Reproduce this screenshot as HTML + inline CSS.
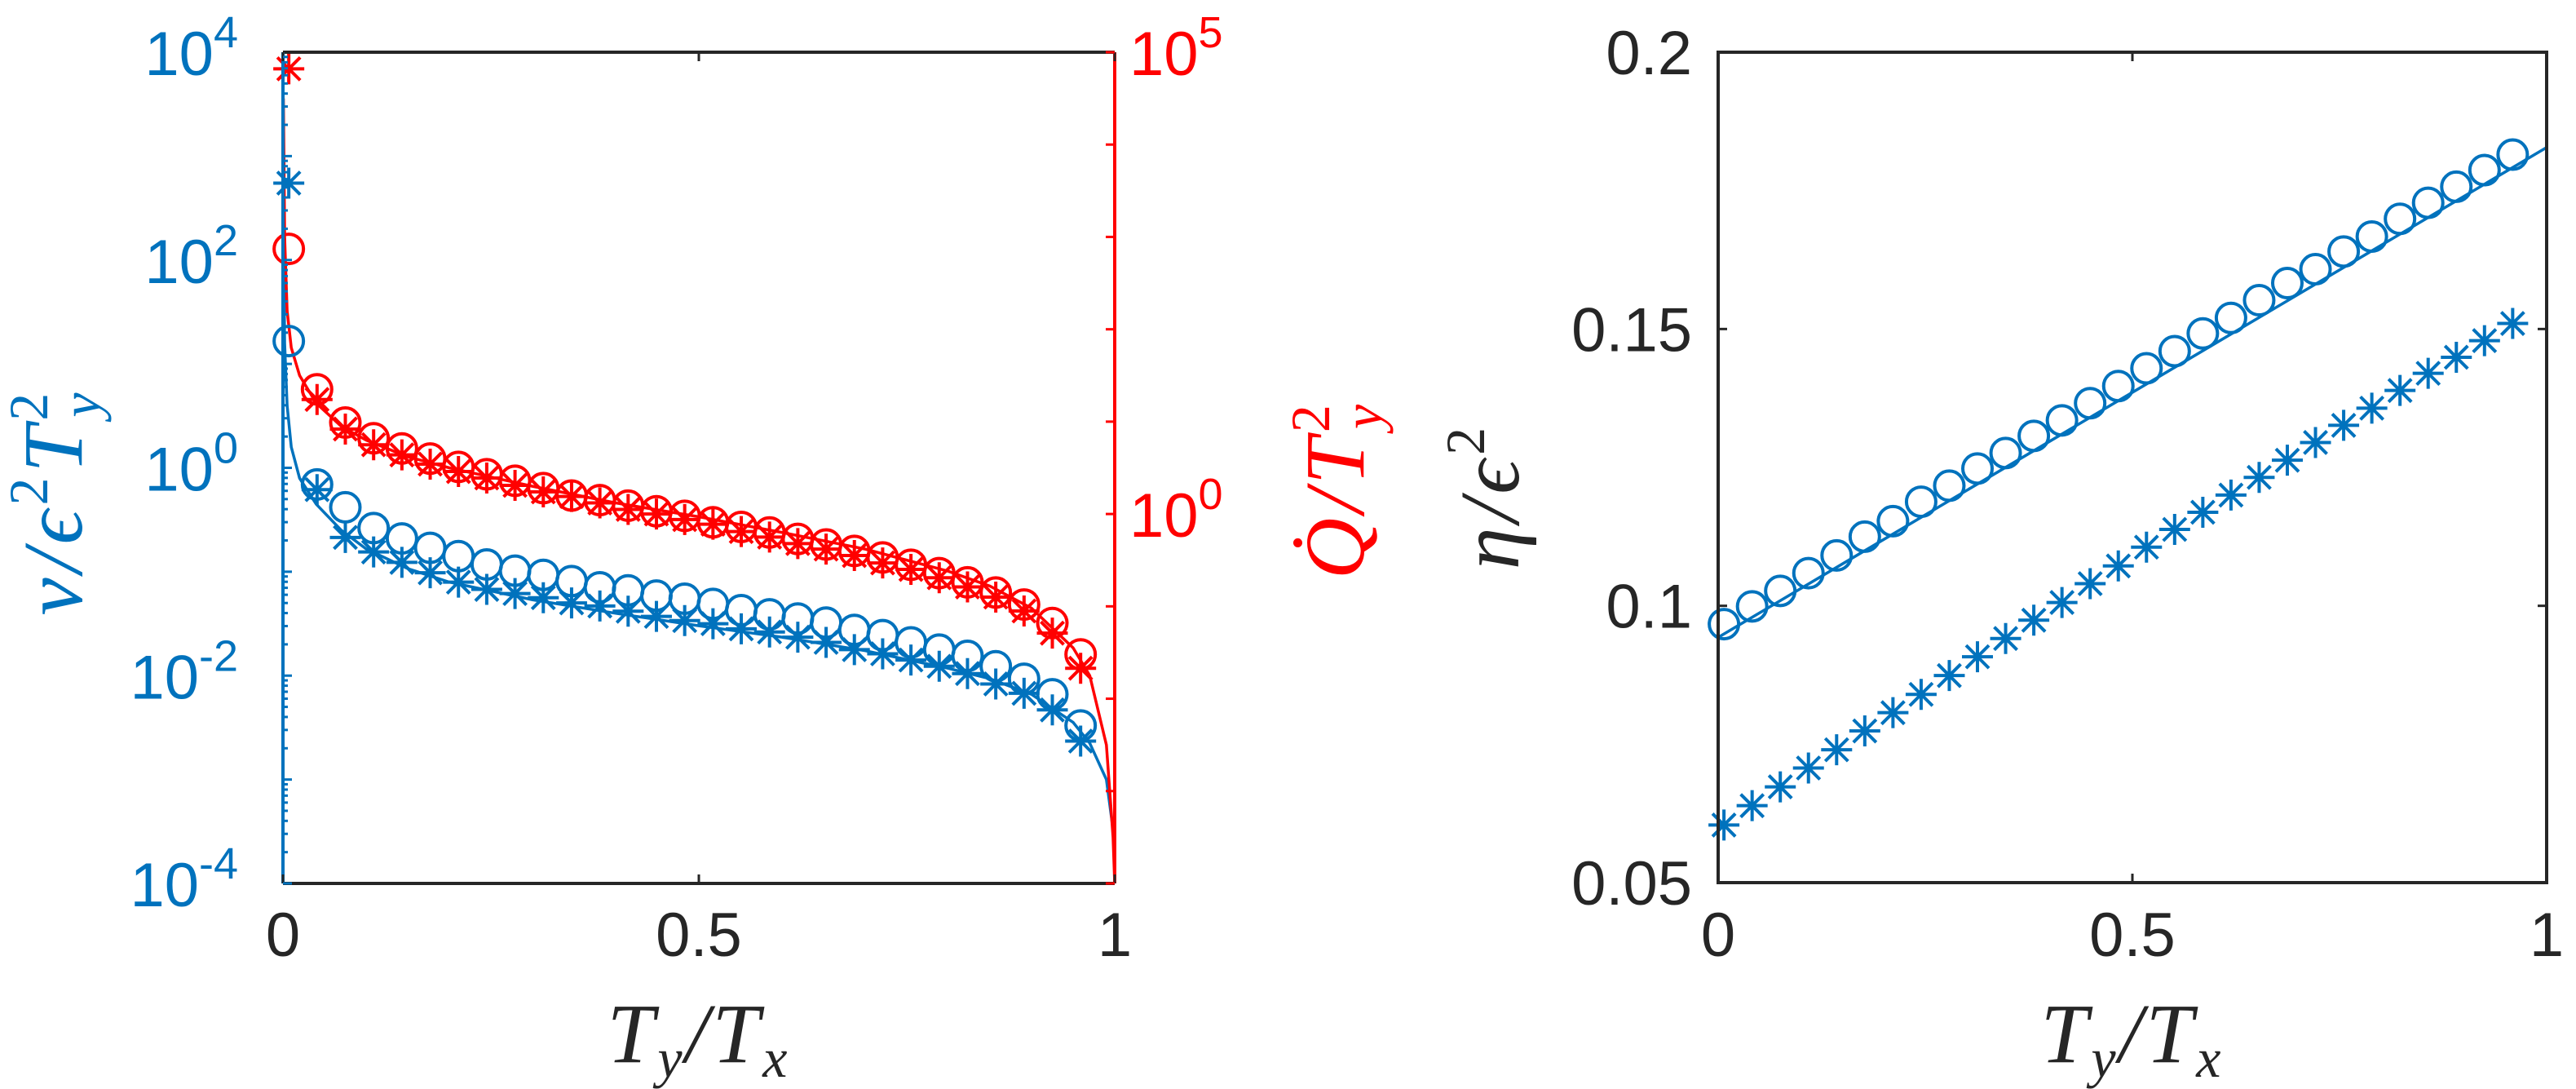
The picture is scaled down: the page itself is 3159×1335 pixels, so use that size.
<!DOCTYPE html>
<html><head><meta charset="utf-8"><style>
html,body{margin:0;padding:0;background:#fff;}
svg{display:block;}
text{font-family:"Liberation Sans",sans-serif;}
.lab{font-family:"Liberation Serif",serif;font-style:italic;}
</style></head><body>
<svg id="fig" width="3159" height="1335" viewBox="0 0 3159 1335" xmlns="http://www.w3.org/2000/svg">
<g id="left"></g>
<g id="right"></g>
<text class="lab" transform="translate(100,615) rotate(-90)" text-anchor="middle" font-size="104" fill="#0072BD" letter-spacing="6">v/ϵ<tspan font-size="68" dy="-42" font-style="normal">2</tspan><tspan dy="42">T</tspan><tspan font-size="68" dy="-42" font-style="normal">2</tspan><tspan font-size="68" dx="-36" dy="64">y</tspan></text>
<text class="lab" transform="translate(1672,600) rotate(-90)" text-anchor="middle" font-size="104" fill="#FF0000" letter-spacing="6">Q̇/T<tspan font-size="68" dy="-42" font-style="normal">2</tspan><tspan font-size="68" dx="-36" dy="64">y</tspan></text>
<text class="lab" x="857" y="1302" text-anchor="middle" font-size="104" fill="#262626" letter-spacing="4">T<tspan font-size="68" dy="18">y</tspan><tspan dy="-18">/T</tspan><tspan font-size="68" dy="18">x</tspan></text>
<text class="lab" x="2615" y="1302" text-anchor="middle" font-size="104" fill="#262626" letter-spacing="4">T<tspan font-size="68" dy="18">y</tspan><tspan dy="-18">/T</tspan><tspan font-size="68" dy="18">x</tspan></text>
<text class="lab" transform="translate(1862,608) rotate(-90)" text-anchor="middle" font-size="104" fill="#262626" letter-spacing="6">η/ϵ<tspan font-size="68" dy="-42" font-style="normal">2</tspan></text>
</svg>
<script>
// ---------- data ----------
const xGrid = [0.007,0.041,0.075,0.109,0.143,0.177,0.211,0.245,0.279,0.313,0.347,0.381,0.415,0.449,0.483,0.517,0.551,0.585,0.619,0.653,0.687,0.721,0.755,0.789,0.823,0.857,0.891,0.925,0.959];
// left panel: log10 values
const vCircleLog = [1.22,-0.16,-0.38,-0.58,-0.68,-0.77,-0.85,-0.93,-0.99,-1.03,-1.09,-1.15,-1.18,-1.23,-1.26,-1.31,-1.37,-1.41,-1.45,-1.49,-1.56,-1.61,-1.68,-1.75,-1.81,-1.91,-2.03,-2.18,-2.48];
const vStarLog = [2.74,-0.21,-0.67,-0.81,-0.91,-1.01,-1.10,-1.17,-1.21,-1.25,-1.30,-1.33,-1.38,-1.43,-1.47,-1.50,-1.55,-1.58,-1.63,-1.68,-1.75,-1.79,-1.85,-1.91,-1.98,-2.08,-2.17,-2.33,-2.63];
const vLineX = [0.0005,0.002,0.005,0.01,0.02,0.04,0.07,0.1,0.15,0.2,0.3,0.4,0.5,0.6,0.7,0.8,0.85,0.9,0.95,0.97,0.99,1.0];
const vLineLog = [2.5,1.2,0.6,0.2,-0.1,-0.35,-0.6,-0.78,-0.97,-1.1,-1.27,-1.4,-1.52,-1.63,-1.76,-1.93,-2.03,-2.18,-2.45,-2.65,-3.0,-3.6];
const qCircleLog = [2.87,1.35,0.99,0.82,0.71,0.60,0.51,0.43,0.36,0.28,0.20,0.15,0.09,0.03,-0.02,-0.09,-0.14,-0.20,-0.27,-0.33,-0.40,-0.47,-0.55,-0.64,-0.74,-0.85,-0.98,-1.18,-1.52];
const qStarLog = [4.82,1.24,0.92,0.75,0.64,0.54,0.46,0.39,0.31,0.24,0.19,0.12,0.05,0.00,-0.06,-0.11,-0.19,-0.25,-0.32,-0.38,-0.45,-0.53,-0.60,-0.69,-0.79,-0.90,-1.05,-1.29,-1.67];
const qLineX = [0.0005,0.002,0.005,0.01,0.02,0.04,0.07,0.1,0.15,0.2,0.3,0.4,0.5,0.6,0.7,0.8,0.85,0.9,0.95,0.97,0.99,0.998,1.0];
const qLineLog = [4.5,3.0,2.2,1.8,1.5,1.2,0.95,0.8,0.62,0.5,0.3,0.12,-0.03,-0.2,-0.38,-0.62,-0.78,-1.02,-1.45,-1.75,-2.5,-3.5,-4];
// right panel
const etaCircle = [0.0967,0.0999,0.1027,0.1059,0.1091,0.1125,0.1153,0.1188,0.1217,0.1248,0.1276,0.1307,0.1335,0.1366,0.1397,0.1429,0.1460,0.1492,0.1520,0.1552,0.1583,0.1608,0.1640,0.1667,0.1699,0.1728,0.1757,0.1787,0.1815];
const etaStar = [0.0604,0.0639,0.0673,0.0707,0.0740,0.0774,0.0807,0.0840,0.0874,0.0908,0.0941,0.0974,0.1006,0.1040,0.1072,0.1106,0.1138,0.1169,0.1200,0.1232,0.1263,0.1295,0.1326,0.1357,0.1389,0.1420,0.1449,0.1479,0.1510];
const etaLineX = [0,1];
const etaLine = [0.0943,0.1828];
const xTicks = [0,0.5,1];
const xTickLabels = ["0","0.5","1"];
const leftYTicks = [4,2,0,-2,-4];
const rightQTicks = [5,4,3,2,1,0,-1,-2,-3,-4];
const etaTicks = [0.05,0.1,0.15,0.2];
const etaTickLabels = ["0.05","0.1","0.15","0.2"];

const NS="http://www.w3.org/2000/svg";
const BLUE="#0072BD", RED="#FF0000", DARK="#262626";
function mk(parent,tag,attrs){const e=document.createElementNS(NS,tag);for(const k in attrs)e.setAttribute(k,attrs[k]);parent.appendChild(e);return e;}

const L={x0:347,x1:1367,y0:64,y1:1083};
const lx=v=>L.x0+(L.x1-L.x0)*v;
const lyV=g=>L.y1-(L.y1-L.y0)*(g+4)/8;
const lyQ=g=>L.y1-(L.y1-L.y0)*(g+4)/9;
const R={x0:2107,x1:3123,y0:64,y1:1082};
const rx=v=>R.x0+(R.x1-R.x0)*v;
const ry=v=>R.y1-(R.y1-R.y0)*(v-0.05)/0.15;

const gl=document.getElementById('left'), gr=document.getElementById('right');

function circle(g,x,y,c,name){const e=mk(g,'circle',{cx:x,cy:y,r:18,fill:'none',stroke:c,'stroke-width':4});

}
function star(g,x,y,c,name){const s=19,d=14;const e=mk(g,'path',{d:`M${x-s},${y}H${x+s}M${x},${y-s}V${y+s}M${x-d},${y-d}L${x+d},${y+d}M${x-d},${y+d}L${x+d},${y-d}`,stroke:c,'stroke-width':4,fill:'none'});

}
function line(g,xs,ys,fx,fy,c,name){const e=mk(g,'polyline',{points:xs.map((x,i)=>fx(x)+','+fy(ys[i])).join(' '),fill:'none',stroke:c,'stroke-width':3.5});

}
function txt(g,x,y,s,anchor,c,size,name){const e=mk(g,'text',{x:x,y:y,'text-anchor':anchor,fill:c,'font-size':size});e.textContent=s;

return e;}
function pow(g,x,y,exp,anchor,c,name){const e=mk(g,'text',{x:x,y:y,'text-anchor':anchor,fill:c,'font-size':76});


e.appendChild(document.createTextNode('10'));const t=mk(e,'tspan',{dy:-34,'font-size':54});t.textContent=exp;return e;}

// ----- left panel -----
line(gl,vLineX,vLineLog,lx,lyV,BLUE,'v-model-line');
line(gl,qLineX,qLineLog,lx,lyQ,RED,'q-model-line');
xGrid.forEach((x,i)=>circle(gl,lx(x),lyV(vCircleLog[i]),BLUE,'v-circle-point'));
xGrid.forEach((x,i)=>star(gl,lx(x),lyV(vStarLog[i]),BLUE,'v-star-point'));
xGrid.forEach((x,i)=>circle(gl,lx(x),lyQ(qCircleLog[i]),RED,'q-circle-point'));
xGrid.forEach((x,i)=>star(gl,lx(x),lyQ(qStarLog[i]),RED,'q-star-point'));
mk(gl,'line',{x1:L.x0,y1:L.y0,x2:L.x1,y2:L.y0,stroke:DARK,'stroke-width':4});
mk(gl,'line',{x1:L.x0,y1:L.y1,x2:L.x1,y2:L.y1,stroke:DARK,'stroke-width':4});
mk(gl,'line',{x1:L.x0,y1:L.y0,x2:L.x0,y2:L.y1,stroke:BLUE,'stroke-width':4});
mk(gl,'line',{x1:L.x1,y1:L.y0,x2:L.x1,y2:L.y1,stroke:RED,'stroke-width':4});
xTicks.forEach((t,i)=>{mk(gl,'line',{x1:lx(t),y1:L.y0,x2:lx(t),y2:L.y0+11,stroke:DARK,'stroke-width':3});
mk(gl,'line',{x1:lx(t),y1:L.y1,x2:lx(t),y2:L.y1-11,stroke:DARK,'stroke-width':3});
txt(gl,lx(t),1172,xTickLabels[i],'middle',DARK,76,'left-x-tick-label');});
for(let d=-4;d<4;d++){for(let m=1;m<10;m++){const y=lyV(d+Math.log10(m));
mk(gl,'line',{x1:L.x0,y1:y,x2:L.x0+(m==1?11:6),y2:y,stroke:BLUE,'stroke-width':3});}}
leftYTicks.forEach(t=>pow(gl,292,lyV(t)+28,String(t),'end',BLUE,'left-y-tick-label'));
rightQTicks.forEach(t=>{const y=lyQ(t);mk(gl,'line',{x1:L.x1,y1:y,x2:L.x1-11,y2:y,stroke:RED,'stroke-width':3});});
pow(gl,1385,lyQ(5)+28,'5','start',RED,'right-q-tick-label');
pow(gl,1385,lyQ(0)+28,'0','start',RED,'right-q-tick-label');

// ----- right panel -----
line(gr,etaLineX,etaLine,rx,ry,BLUE,'eta-model-line');
xGrid.forEach((x,i)=>circle(gr,rx(x),ry(etaCircle[i]),BLUE,'eta-circle-point'));
xGrid.forEach((x,i)=>star(gr,rx(x),ry(etaStar[i]),BLUE,'eta-star-point'));
mk(gr,'rect',{x:R.x0,y:R.y0,width:R.x1-R.x0,height:R.y1-R.y0,fill:'none',stroke:DARK,'stroke-width':4});
xTicks.forEach((t,i)=>{mk(gr,'line',{x1:rx(t),y1:R.y0,x2:rx(t),y2:R.y0+11,stroke:DARK,'stroke-width':3});
mk(gr,'line',{x1:rx(t),y1:R.y1,x2:rx(t),y2:R.y1-11,stroke:DARK,'stroke-width':3});
txt(gr,rx(t),1172,xTickLabels[i],'middle',DARK,76,'right-x-tick-label');});
etaTicks.forEach((t,i)=>{const y=ry(t);
mk(gr,'line',{x1:R.x0,y1:y,x2:R.x0+11,y2:y,stroke:DARK,'stroke-width':3});
mk(gr,'line',{x1:R.x1,y1:y,x2:R.x1-11,y2:y,stroke:DARK,'stroke-width':3});
txt(gr,2075,y+27,etaTickLabels[i],'end',DARK,76,'eta-y-tick-label');});
</script>
</body></html>
